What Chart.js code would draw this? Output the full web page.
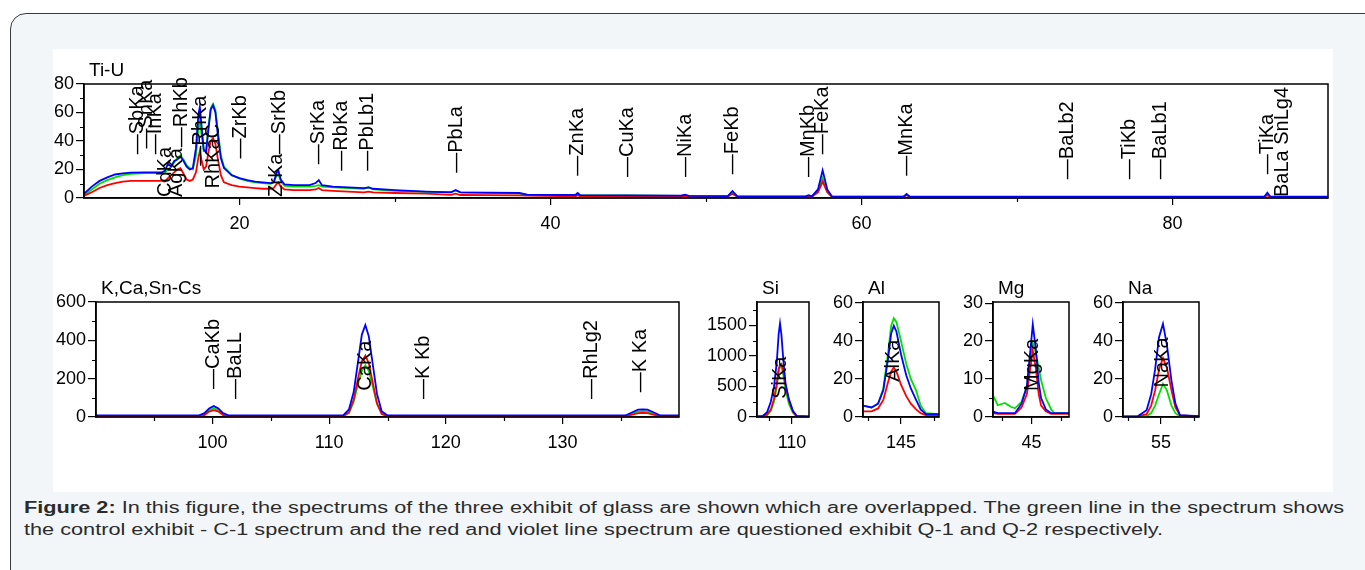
<!DOCTYPE html>
<html>
<head>
<meta charset="utf-8">
<title>Figure 2</title>
<script src="https://cdn.jsdelivr.net/npm/chart.js@4.4.1/dist/chart.umd.min.js"></script>
<style>
  body { margin: 0; width: 1365px; height: 570px; background: #fff; overflow: hidden; position: relative; font-family: "Liberation Sans", Arial, sans-serif; }
  .frame { position: absolute; left: 10px; top: 13px; width: 1400px; height: 575px; border: 1.5px solid #3a3a3a; border-radius: 16px; background: #f2f6f9; }
  .figure { position: absolute; left: 53px; top: 49px; width: 1280px; height: 443px; background: #fff; }
  canvas { position: absolute; }
  .caption { position: absolute; left: 24px; top: 497px; font-size: 16px; line-height: 22px; color: #2b2b2b; white-space: nowrap; transform-origin: 0 0; }
  .caption b { font-weight: bold; }
</style>
</head>
<body>
<div class="frame"></div>
<div class="figure"></div>
<canvas id="chartTop"></canvas>
<canvas id="chartK"></canvas>
<canvas id="chartSi"></canvas>
<canvas id="chartAl"></canvas>
<canvas id="chartMg"></canvas>
<canvas id="chartNa"></canvas>
<div class="caption" id="caption">
  <span id="capLine1"><b>Figure 2:</b> In this figure, the spectrums of the three exhibit of glass are shown which are overlapped. The green line in the spectrum shows</span><br>
  <span>the control exhibit - C-1 spectrum and the red and violet line spectrum are questioned exhibit Q-1 and Q-2 respectively.</span>
</div>

<script>
// ---- Ti-U (2theta 10..90) ----
const topAngle = [10, 10.5, 11, 11.5, 12, 12.5, 13, 14, 15,
  15.2, 15.4, 15.6, 15.8, 16.0, 16.2, 16.4, 16.6, 16.8, 17.0,
  17.2, 17.35, 17.45, 17.55, 17.7, 17.85, 18.0, 18.15, 18.3, 18.45,
  18.6, 18.8, 19.0, 19.5, 20, 20.5, 21, 21.5, 22, 22.2,
  22.4, 22.5, 22.65, 22.9, 23.5, 24.5, 24.9, 25.1, 25.3, 26,
  27, 28, 28.3, 28.6, 30, 32, 33.6, 33.9, 34.2, 36,
  38, 38.5, 41.6, 41.75, 41.9, 45, 48.4, 48.65, 48.9, 51.4,
  51.7, 52, 56.4, 56.6, 56.8, 57.2, 57.5, 57.8, 58.1, 62.7,
  62.9, 63.1, 85.9, 86.1, 86.3, 90];
const topBlue = [3, 8, 12, 14.5, 16.5, 17.3, 17.8, 18, 18,
  19, 24, 22, 26, 27, 29, 26, 22, 20, 21,
  35, 58, 64, 52, 34, 32, 48, 62, 65, 60,
  45, 28, 21, 16, 14, 12.5, 11.5, 11, 10.5, 11,
  18, 19.5, 13, 9.5, 9, 9, 10.5, 12.5, 9, 8,
  7.5, 7, 7.5, 6.5, 5.5, 4.5, 4, 5.6, 4, 3.8,
  3.5, 2.3, 2.1, 3.5, 2, 1.9, 1.6, 2.3, 1.5, 1.3,
  4.9, 1.3, 1.1, 2.0, 1.1, 6, 19.5, 6, 1.1, 1,
  2.8, 1, 0.9, 3.7, 0.9, 0.9];
const topGreen = [2, 6, 10, 12.5, 14.5, 16, 17, 17.5, 17.5,
  18, 20, 22, 25, 28, 30, 27, 23, 21, 20,
  30, 48, 55, 45, 33, 33, 50, 63, 66, 62,
  48, 30, 22, 16, 13.5, 12, 11, 10.5, 10, 11,
  16, 17, 12, 8.5, 8, 8, 8.5, 9, 8, 7.5,
  7, 6.5, 7.5, 6, 5, 4.3, 4.2, 5.2, 4, 3.5,
  3.2, 2.2, 2, 3, 1.9, 1.8, 1.5, 2, 1.4, 1.2,
  4.3, 1.2, 1, 1.6, 1, 4.5, 14, 4.5, 1, 0.9,
  2.2, 0.9, 0.8, 2.5, 0.8, 0.8];
const topRed = [1.5, 4, 7, 9, 10.5, 11.5, 12, 12, 12,
  11.5, 14, 16, 18, 20, 21, 17, 13, 12, 13,
  18, 28, 33, 27, 20, 22, 32, 40, 42, 38,
  28, 16, 11, 9, 8, 7.5, 7, 6.5, 6.5, 7,
  10, 11, 8, 6, 5.5, 5.5, 6, 7, 5.5, 5,
  4.5, 4, 4.5, 4, 3.5, 3, 2.2, 3, 2.1, 2,
  1.9, 1.6, 1.2, 2, 1.1, 1, 0.9, 1.4, 0.9, 0.9,
  3, 0.9, 0.8, 1.3, 0.8, 4, 11.5, 4, 0.8, 0.8,
  2, 0.8, 0.7, 2, 0.7, 0.7];
const topLineNames = ["—SbKa", "—SnKa", "—InKa", "CdKa", "AgKa", "—RhKb", "—RhKa", "RhKaC",
  "—ZrKb", "ZrKa", "—SrKb", "—SrKa", "—RbKa", "—PbLb1", "—PbLa", "—ZnKa", "—CuKa",
  "—NiKa", "—FeKb", "—MnKb", "—FeKa", "—MnKa", "—BaLb2", "—TiKb", "—BaLb1", "—TiKa", "BaLa SnLg4"];
const topLineAngle = [13.41, 13.99, 14.61, 15.27, 15.97, 16.28, 17.46, 18.3,
  20.06, 22.4, 22.55, 25.11, 26.58, 28.26, 33.93, 41.75, 44.98,
  48.65, 51.73, 56.62, 57.49, 62.91, 73.24, 77.25, 79.23, 86.09, 87.08];
const topLineBase = [30, 34, 30, 0, 0, 35, 22, 6,
  27, 0, 30, 23, 18.5, 18.5, 17, 15, 14,
  14, 16, 14, 30, 15, 12.5, 12.5, 12.5, 16, 0];
const topXTicks = [20, 40, 60, 80];
const topXMinor = [30, 50, 70];
const topYTicks = [0, 20, 40, 60, 80];
const topYMinor = [10, 30, 50, 70];

// ---- K,Ca,Sn-Cs (2theta 90..140) ----
const kAngle = [90, 98.8, 99.3, 99.7, 100.1, 100.5, 100.9, 101.4, 111.2, 111.7, 112.1, 112.5, 112.8, 113.1,
  113.4, 113.7, 114.1, 114.5, 115, 135.4, 136, 136.5, 136.9, 137.3, 137.8, 138.4, 140];
const kBlue = [8, 8, 20, 45, 57, 45, 20, 8, 8, 40, 130, 300, 430, 480, 420, 290, 120, 30, 8, 8, 25, 38, 40, 38, 25, 8, 8];
const kGreen = [6, 6, 15, 35, 45, 35, 15, 6, 6, 20, 80, 180, 240, 270, 240, 170, 70, 20, 6, 6, 18, 28, 30, 28, 18, 6, 6];
const kRed = [4, 4, 10, 28, 36, 28, 10, 4, 4, 25, 90, 210, 290, 320, 280, 190, 70, 15, 4, 4, 12, 20, 22, 20, 12, 4, 4];
const kLineNames = ["—CaKb", "—BaLL", "CaKa", "—K Kb", "—RhLg2", "—K Ka"];
const kLineAngle = [100.1, 101.97, 113.1, 118.05, 132.5, 136.7];
const kLineBase = [141, 89, 132, 89, 89, 124];
const kXTicks = [100, 110, 120, 130];
const kXMinor = [95, 105, 115, 125, 135];
const kYTicks = [0, 200, 400, 600];
const kYMinor = [100, 300, 500];

// ---- Si ----
const siAngle = [102.4, 103.7, 104.6, 105.4, 106.1, 106.7, 107.1, 107.4, 107.7, 108.1, 108.6, 109.3, 110.2, 111, 113.7];
const siBlue = [10, 20, 80, 250, 500, 900, 1350, 1530, 1350, 950, 550, 300, 100, 20, 10];
const siGreen = [5, 10, 30, 100, 250, 500, 750, 820, 830, 700, 450, 220, 70, 10, 5];
const siRed = [5, 10, 40, 120, 300, 550, 780, 860, 870, 760, 520, 280, 90, 15, 5];

// ---- Al ----
const alAngle = [139.2, 140.5, 141.5, 142.3, 143, 143.5, 143.9, 144.3, 145, 145.8, 146.5, 147.3, 148, 148.8, 150.8];
const alBlue = [6, 5, 7, 14, 30, 44, 48, 45, 33, 22, 15, 9, 4, 1.5, 1.5];
const alGreen = [6, 5, 7, 15, 33, 48, 52, 50, 40, 28, 20, 14, 6, 2, 1.5];
const alRed = [3, 3, 4.5, 9, 18, 24, 26, 24, 17, 11, 7, 4, 2, 1, 1];

// ---- Mg ----
const mgAngle = [38.5, 39.3, 40.5, 41.5, 42.2, 43.3, 44.2, 44.7, 45.2, 45.7, 46.2, 46.6, 47.4, 48.3, 48.8, 51.3];
const mgBlue = [1.4, 1, 1, 1, 1, 3.5, 8, 16, 24.4, 18, 9, 5, 2, 1, 1, 1];
const mgGreen = [5.7, 3.1, 3.7, 2.7, 2.3, 4, 8, 15, 19.5, 17, 13, 9.7, 5, 2, 1, 1];
const mgRed = [1, 0.8, 0.8, 0.8, 0.8, 2.5, 6, 12, 17.5, 13, 6, 3, 1.5, 0.8, 0.8, 0.8];

// ---- Na ----
const naAngle = [49.2, 51.5, 52.8, 53.5, 54.1, 54.7, 55.3, 55.9, 56.6, 57.2, 57.9, 60.8];
const naBlue = [0.3, 0.5, 3.6, 12, 25, 42, 49, 38, 19, 7, 1, 0.5];
const naGreen = [0.2, 0.2, 0.5, 2, 6, 12, 17.5, 14, 6, 2, 0.3, 0.2];
const naRed = [0.2, 0.3, 1.5, 6, 14, 25, 31, 26, 14, 5, 0.8, 0.3];

const BLUE = "#0000ff";
const GREEN = "#00e000";
const RED = "#ff0000";
const FONT = "'Liberation Sans', Arial, sans-serif";

function pairs(xs, ys) {
  return xs.map((x, i) => ({ x, y: ys[i] }));
}

function markerPlugin(cfg) {
  return {
    id: "markers",
    afterDatasetsDraw(chart) {
      const ctx = chart.ctx;
      const area = chart.chartArea;
      const xs = chart.scales.x;
      const ys = chart.scales.y;
      ctx.save();
      ctx.fillStyle = "#000";
      ctx.font = "20px " + FONT;

      // line markers
      const names = cfg.names || [];
      names.forEach((name, i) => {
        const px = xs.getPixelForValue(cfg.at[i]);
        const py = ys.getPixelForValue(cfg.base[i]) - 1;
        ctx.save();
        ctx.translate(px, py);
        ctx.rotate(-Math.PI / 2);
        ctx.textAlign = "left";
        ctx.textBaseline = "middle";
        ctx.fillText(name, 0, 0);
        ctx.restore();
      });

      // plot frame
      ctx.strokeStyle = "#000";
      ctx.lineWidth = 1.5;
      ctx.strokeRect(area.left, area.top, area.right - area.left, area.bottom - area.top);

      // minor ticks
      ctx.lineWidth = 1.2;
      ctx.beginPath();
      (cfg.minorX || []).forEach((v) => {
        const px = Math.round(xs.getPixelForValue(v)) + 0.5;
        ctx.moveTo(px, area.bottom);
        ctx.lineTo(px, area.bottom + 4);
      });
      (cfg.minorY || []).forEach((v) => {
        const py = Math.round(ys.getPixelForValue(v)) + 0.5;
        ctx.moveTo(area.left - 4, py);
        ctx.lineTo(area.left, py);
      });
      ctx.stroke();

      // panel title
      ctx.font = "19px " + FONT;
      ctx.textAlign = "left";
      ctx.textBaseline = "alphabetic";
      ctx.fillText(cfg.title, area.left + 5, area.top - 8);
      ctx.restore();
    }
  };
}

function makeSpectrum(id, box, data, axes, markers) {
  const canvas = document.getElementById(id);
  canvas.width = box.width;
  canvas.height = box.height;
  canvas.style.left = box.left + "px";
  canvas.style.top = box.top + "px";
  canvas.style.width = box.width + "px";
  canvas.style.height = box.height + "px";

  return new Chart(canvas.getContext("2d"), {
    type: "line",
    data: {
      datasets: [
        { label: "Q-2", data: pairs(data.x, data.blue), borderColor: BLUE },
        { label: "Q-1", data: pairs(data.x, data.red), borderColor: RED },
        { label: "C-1", data: pairs(data.x, data.green), borderColor: GREEN }
      ]
    },
    options: {
      responsive: false,
      animation: false,
      devicePixelRatio: 1,
      elements: {
        line: { borderWidth: 1.8, tension: 0, fill: false },
        point: { radius: 0, hoverRadius: 0 }
      },
      layout: { padding: { top: box.padTop, right: box.padRight, left: 0, bottom: 0 } },
      plugins: { legend: { display: false }, tooltip: { enabled: false }, title: { display: false } },
      scales: {
        x: {
          type: "linear",
          min: axes.xMin,
          max: axes.xMax,
          afterBuildTicks(scale) { scale.ticks = axes.xTicks.map((v) => ({ value: v })); },
          afterFit(scale) { scale.height = box.xAxisH; },
          ticks: { color: "#000", font: { size: 18, family: FONT }, padding: 8, maxRotation: 0, autoSkip: false, callback: (v) => String(v) },
          grid: { drawOnChartArea: false, drawTicks: true, tickLength: 7, color: "#000", lineWidth: 1.2 },
          border: { display: true, color: "#000", width: 1.5 }
        },
        y: {
          type: "linear",
          min: axes.yMin,
          max: axes.yMax,
          afterBuildTicks(scale) { scale.ticks = axes.yTicks.map((v) => ({ value: v })); },
          afterFit(scale) { scale.width = box.yAxisW; },
          ticks: { color: "#000", font: { size: 18, family: FONT }, padding: 2, autoSkip: false, callback: (v) => String(v) },
          grid: { drawOnChartArea: false, drawTicks: true, tickLength: 8, color: "#000", lineWidth: 1.2 },
          border: { display: true, color: "#000", width: 1.5 }
        }
      }
    },
    plugins: [markerPlugin(markers)]
  });
}

function fitCaption() {
  const caption = document.getElementById("caption");
  const line = document.getElementById("capLine1");
  const w = line.getBoundingClientRect().width;
  if (w > 0) caption.style.transform = "scaleX(" + (1320 / w).toFixed(4) + ")";
}

function init() {
  Chart.defaults.font.family = FONT;
  Chart.defaults.color = "#000";

  makeSpectrum("chartTop",
    { left: 40, top: 52, width: 1300, height: 186, yAxisW: 44, xAxisH: 40, padTop: 32, padRight: 12 },
    { x: topAngle, blue: topBlue, green: topGreen, red: topRed },
    { xMin: 10, xMax: 90, yMin: 0, yMax: 80, xTicks: topXTicks, yTicks: topYTicks },
    { title: "Ti-U", names: topLineNames, at: topLineAngle, base: topLineBase, minorX: topXMinor, minorY: topYMinor });

  makeSpectrum("chartK",
    { left: 40, top: 270, width: 650, height: 190, yAxisW: 56, xAxisH: 43, padTop: 32, padRight: 11 },
    { x: kAngle, blue: kBlue, green: kGreen, red: kRed },
    { xMin: 90, xMax: 140, yMin: 0, yMax: 600, xTicks: kXTicks, yTicks: kYTicks },
    { title: "K,Ca,Sn-Cs", names: kLineNames, at: kLineAngle, base: kLineBase, minorX: kXMinor, minorY: kYMinor });

  makeSpectrum("chartSi",
    { left: 700, top: 270, width: 120, height: 190, yAxisW: 57, xAxisH: 43, padTop: 32, padRight: 11 },
    { x: siAngle, blue: siBlue, green: siGreen, red: siRed },
    { xMin: 102.4, xMax: 113.7, yMin: 0, yMax: 1880, xTicks: [110], yTicks: [0, 500, 1000, 1500] },
    { title: "Si", names: ["SiKa"], at: [107.5], base: [280], minorX: [105], minorY: [250, 750, 1250, 1750] });

  makeSpectrum("chartAl",
    { left: 820, top: 270, width: 130, height: 190, yAxisW: 43, xAxisH: 43, padTop: 32, padRight: 11 },
    { x: alAngle, blue: alBlue, green: alGreen, red: alRed },
    { xMin: 139.2, xMax: 150.8, yMin: 0, yMax: 60.5, xTicks: [145], yTicks: [0, 20, 40, 60] },
    { title: "Al", names: ["AlKa"], at: [143.9], base: [18], minorX: [140, 150], minorY: [10, 30, 50] });

  makeSpectrum("chartMg",
    { left: 950, top: 270, width: 130, height: 190, yAxisW: 43, xAxisH: 43, padTop: 32, padRight: 11 },
    { x: mgAngle, blue: mgBlue, green: mgGreen, red: mgRed },
    { xMin: 38.5, xMax: 51.3, yMin: 0, yMax: 30.3, xTicks: [45], yTicks: [0, 10, 20, 30] },
    { title: "Mg", names: ["MgKa"], at: [45.2], base: [6.6], minorX: [40, 50], minorY: [5, 15, 25] });

  makeSpectrum("chartNa",
    { left: 1080, top: 270, width: 130, height: 190, yAxisW: 43, xAxisH: 43, padTop: 32, padRight: 11 },
    { x: naAngle, blue: naBlue, green: naGreen, red: naRed },
    { xMin: 49.2, xMax: 60.8, yMin: 0, yMax: 60.5, xTicks: [55], yTicks: [0, 20, 40, 60] },
    { title: "Na", names: ["NaKa"], at: [55.3], base: [15], minorX: [50, 60], minorY: [10, 30, 50] });

  fitCaption();
}

document.addEventListener("DOMContentLoaded", init);
</script>
</body>
</html>
